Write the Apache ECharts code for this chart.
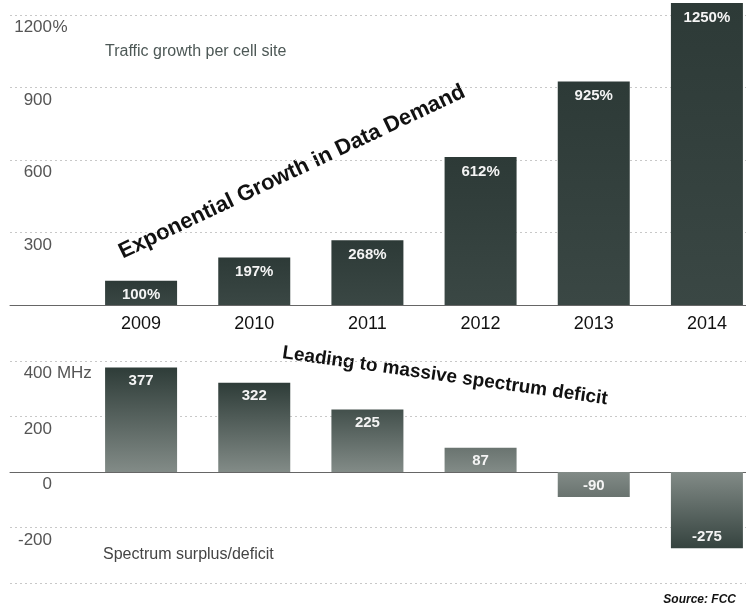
<!DOCTYPE html>
<html><head><meta charset="utf-8">
<script src="https://cdn.jsdelivr.net/npm/echarts@6/dist/echarts.min.js"></script>
<style>html,body{margin:0;padding:0;background:#fff}#c{width:746px;height:609px}</style>
</head><body><div id="c"></div>
<script>
// ---- data ----
const years = ['2009', '2010', '2011', '2012', '2013', '2014'];
const trafficGrowth = [100, 197, 268, 612, 925, 1250];          // % per cell site
const spectrumBalance = [377, 322, 225, 87, -90, -275];          // MHz surplus/deficit
const topTickSuffix = '%';       // shown on top tick (1200%)
const bottomTickSuffix = ' MHz'; // shown on top tick (400 MHz)
const topSubtitle = 'Traffic growth per cell site';
const bottomSubtitle = 'Spectrum surplus/deficit';
const topNote = 'Exponential Growth in Data Demand';
const bottomNote = 'Leading to massive spectrum deficit';
const sourceNote = 'Source: FCC';

// ---- styling helpers ----
const FONT = '"Liberation Sans", Arial, sans-serif';
const LIGHT = [130, 139, 135], DARK = [46, 60, 56];
function rgb(c) { return 'rgb(' + c.map(Math.round).join(',') + ')'; }
function mix(a, b, t) { return a.map((v, i) => v + (b[i] - v) * t); }
function lowerGradient(v) {
  const t = Math.min(1, Math.abs(v) / 300);
  const far = rgb(mix(LIGHT, DARK, t));
  const near = rgb(LIGHT);
  const stops = v >= 0
    ? [{ offset: 0, color: far }, { offset: 1, color: near }]
    : [{ offset: 0, color: near }, { offset: 1, color: far }];
  return { type: 'linear', x: 0, y: 0, x2: 0, y2: 1, colorStops: stops };
}
const upperColor = { type: 'linear', x: 0, y: 0, x2: 0, y2: 1,
  colorStops: [{ offset: 0, color: '#2d3a37' }, { offset: 1, color: '#3a4744' }] };

const labelStyle = { color: '#f4f4f4', fontSize: 15, fontWeight: 'bold', fontFamily: FONT };

const chart = echarts.init(document.getElementById('c'));

const splitLineStyle = { show: true, lineStyle: { color: '#c8c8c8', type: [2, 3], width: 1 } };

function yLabel(maxVal, suffix, suffixWidth, margin, hideVals) {
  return {
    inside: true, align: 'right', margin: margin, verticalAlign: 'top', padding: [4, 0, 0, 0],
    color: '#555', fontSize: 17, fontFamily: FONT,
    formatter: function (v) {
      if (hideVals.indexOf(v) >= 0) return '';
      return '{n|' + v + '}' + (v === maxVal ? '{s|' + suffix + '}' : '{s| }');
    },
    rich: {
      n: { color: '#555', fontSize: 17, fontFamily: FONT },
      s: { color: '#555', fontSize: 17, fontFamily: FONT, width: suffixWidth, align: 'left' }
    }
  };
}

const option = {
  backgroundColor: '#fff',
  animation: false,
  grid: [
    { left: 10, right: 0, top: 15, height: 290, outerBoundsMode: 'none' },
    { left: 84.5, right: -17.5, top: 15, height: 290, outerBoundsMode: 'none' },
    { left: 10, right: 0, top: 361, height: 222, outerBoundsMode: 'none' },
    { left: 84.5, right: -17.5, top: 361, height: 222, outerBoundsMode: 'none' }
  ],
  xAxis: [
    { gridIndex: 0, type: 'value', min: 0, max: 1, axisLine: { show: true, lineStyle: { color: '#666', width: 1 } },
      axisTick: { show: false }, axisLabel: { show: false }, splitLine: { show: false } },
    { gridIndex: 1, type: 'category', data: years, axisLine: { show: false }, axisTick: { show: false },
      axisLabel: { color: '#111', fontSize: 18, fontFamily: FONT, margin: 10 } },
    { gridIndex: 2, type: 'value', min: 0, max: 1, axisLine: { show: true, onZero: true, lineStyle: { color: '#666', width: 1 } },
      axisTick: { show: false }, axisLabel: { show: false }, splitLine: { show: false } },
    { gridIndex: 3, type: 'category', data: years, axisLine: { show: false }, axisTick: { show: false },
      axisLabel: { show: false } }
  ],
  yAxis: [
    { gridIndex: 0, type: 'value', min: 0, max: 1200, interval: 300, axisLine: { show: false }, axisTick: { show: false },
      axisLabel: yLabel(1200, topTickSuffix, 16, 58, [0]), splitLine: splitLineStyle },
    { gridIndex: 1, type: 'value', min: 0, max: 1200, show: false },
    { gridIndex: 2, type: 'value', min: -400, max: 400, interval: 200, axisLine: { show: false }, axisTick: { show: false },
      axisLabel: yLabel(400, bottomTickSuffix, 40, 82, [-400]), splitLine: splitLineStyle },
    { gridIndex: 3, type: 'value', min: -400, max: 400, show: false }
  ],
  series: [
    {
      type: 'bar', xAxisIndex: 1, yAxisIndex: 1, barWidth: 72, clip: false,
      data: trafficGrowth.map(v => ({ value: v })),
      itemStyle: { color: upperColor },
      label: Object.assign({ show: true, position: 'insideTop', distance: 7, formatter: '{c}%' }, labelStyle)
    },
    {
      type: 'bar', xAxisIndex: 3, yAxisIndex: 3, barWidth: 72, clip: false,
      data: spectrumBalance.map(v => ({
        value: v,
        itemStyle: { color: lowerGradient(v) },
        label: { position: v >= 0 ? 'insideTop' : 'insideBottom', distance: v >= 0 ? 6 : 4 }
      })),
      label: Object.assign({ show: true, formatter: '{c}' }, labelStyle)
    }
  ],
  graphic: [
    { type: 'text', x: 105, y: 52, style: { text: topSubtitle, fill: '#4d5856', font: '16px ' + FONT, textAlign: 'left', textVerticalAlign: 'middle' } },
    { type: 'text', x: 103, y: 555, style: { text: bottomSubtitle, fill: '#444', font: '16px ' + FONT, textAlign: 'left', textVerticalAlign: 'middle' } },
    { type: 'text', x: 292, y: 172, rotation: 25.3 * Math.PI / 180,
      style: { text: topNote, fill: '#111', font: 'bold 22px ' + FONT, textAlign: 'center', textVerticalAlign: 'middle' } },
    { type: 'text', x: 445, y: 376, rotation: -8.1 * Math.PI / 180,
      style: { text: bottomNote, fill: '#111', font: 'bold 19px ' + FONT, textAlign: 'center', textVerticalAlign: 'middle' } },
    { type: 'text', x: 736, y: 600, style: { text: sourceNote, fill: '#111', font: 'italic bold 12px ' + FONT, textAlign: 'right', textVerticalAlign: 'middle' } }
  ]
};
chart.setOption(option);
</script>
</body></html>
